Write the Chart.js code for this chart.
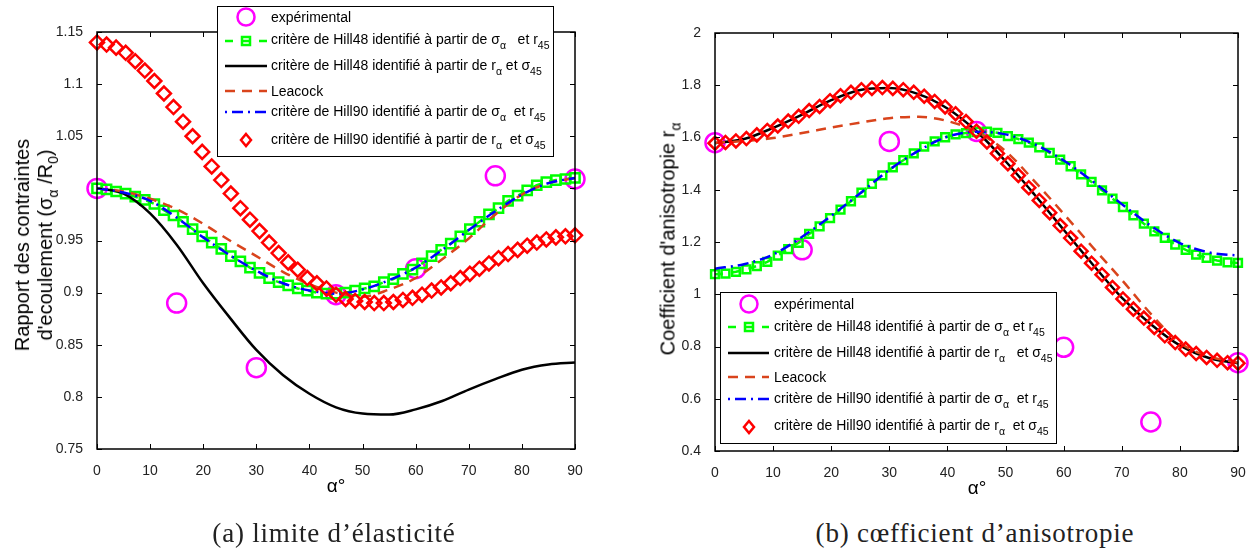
<!DOCTYPE html>
<html>
<head>
<meta charset="utf-8">
<script src="https://cdn.jsdelivr.net/npm/chart.js@4.4.1/dist/chart.umd.min.js"></script>
<style>
  body { margin: 0; background: #fff; }
  #page { position: relative; width: 1257px; height: 554px; overflow: hidden; font-family: "Liberation Sans", Arial, sans-serif; color: #000; }
  canvas { position: absolute; top: 0; }
  .lgbox { position: absolute; background: #fff; border: 1.5px solid #000; box-sizing: border-box; }
  .lgtxt { position: absolute; font-size: 14px; line-height: 16px; white-space: pre; }
  sub { font-size: 10.5px; vertical-align: baseline; position: relative; top: 5px; line-height: 0; }
  .ytitle { position: absolute; font-size: 20px; line-height: 23px; white-space: pre; text-align: center; transform: translate(-50%, -50%) rotate(-90deg); }
  .ytitle sub { font-size: 14px; top: 6px; }
  .xtitle { position: absolute; font-size: 19px; white-space: pre; transform: translate(-50%, -50%); }
  .caption { position: absolute; font-family: "Liberation Serif", serif; font-size: 27px; letter-spacing: 0.8px; white-space: pre; transform: translate(-50%, -50%); color: #222; }
  #sym { position: absolute; left: 0; top: 0; }
</style>
</head>
<body>
<div id="page">
  <canvas id="left" width="600" height="484" style="left:0px"></canvas>
  <canvas id="right" width="637" height="484" style="left:620px"></canvas>

  <div class="ytitle" style="left:34px; top:245px">Rapport des contraintes
d'ecoulement (σ<sub>α</sub> /R<sub>0</sub>)</div>
  <div class="ytitle" style="left:668px; top:239px">Coefficient d'anisotropie r<sub>α</sub></div>
  <div class="xtitle" style="left:336px; top:486px">α°</div>
  <div class="xtitle" style="left:977px; top:488px">α°</div>
  <div class="caption" style="left:334px; top:533px">(a) limite d’élasticité</div>
  <div class="caption" style="left:975px; top:533px">(b) cœfficient d’anisotropie</div>
</div>

<script>
// angles (degrees)
const alphaExp = [0, 15, 30, 45, 60, 75, 90];
const alphaFine = [0, 1.8, 3.6, 5.4, 7.2, 9, 10.8, 12.6, 14.4, 16.2, 18, 19.8, 21.6, 23.4, 25.2, 27, 28.8, 30.6, 32.4, 34.2,
  36, 37.8, 39.6, 41.4, 43.2, 45, 46.8, 48.6, 50.4, 52.2, 54, 55.8, 57.6, 59.4, 61.2, 63, 64.8, 66.6, 68.4, 70.2,
  72, 73.8, 75.6, 77.4, 79.2, 81, 82.8, 84.6, 86.4, 88.2, 90];
const alphaCoarse = [0, 5, 10, 15, 20, 25, 30, 35, 40, 45, 50, 55, 60, 65, 70, 75, 80, 85, 90];

// (a) limite d'elasticite : sigma_alpha / R0
const sigExp = [1.000, 0.890, 0.828, 0.898, 0.923, 1.012, 1.009];
const sigHill48Sig = [1.000, 0.999, 0.997, 0.995, 0.992, 0.989, 0.985, 0.979, 0.974, 0.968, 0.961, 0.954, 0.948, 0.942, 0.935, 0.930, 0.924, 0.919, 0.914, 0.910,
  0.907, 0.904, 0.902, 0.900, 0.899, 0.899, 0.900, 0.902, 0.904, 0.906, 0.910, 0.913, 0.918, 0.922, 0.928, 0.935, 0.941, 0.947, 0.954, 0.961,
  0.968, 0.975, 0.981, 0.988, 0.993, 0.998, 1.003, 1.006, 1.008, 1.009, 1.010];
const sigHill48R = [1.000, 0.995, 0.976, 0.946, 0.909, 0.876, 0.845, 0.821, 0.803, 0.790, 0.784, 0.783, 0.788, 0.796, 0.807, 0.817, 0.826, 0.831, 0.833];
const sigLeacock = [1.000, 0.997, 0.990, 0.980, 0.966, 0.950, 0.935, 0.920, 0.908, 0.900, 0.896, 0.903, 0.914, 0.932, 0.952, 0.975, 0.994, 1.005, 1.010];
const sigHill90Sig = [1.000, 0.996, 0.988, 0.972, 0.953, 0.936, 0.921, 0.909, 0.902, 0.899, 0.903, 0.912, 0.924, 0.941, 0.960, 0.978, 0.994, 1.005, 1.010];
const sigHill90R = [1.140, 1.138, 1.135, 1.130, 1.122, 1.113, 1.103, 1.091, 1.078, 1.064, 1.050, 1.035, 1.021, 1.008, 0.995, 0.981, 0.970, 0.959, 0.948, 0.938,
  0.929, 0.922, 0.914, 0.909, 0.904, 0.898, 0.894, 0.892, 0.891, 0.890, 0.890, 0.891, 0.893, 0.895, 0.898, 0.902, 0.905, 0.909, 0.914, 0.918,
  0.923, 0.928, 0.933, 0.937, 0.941, 0.945, 0.948, 0.951, 0.953, 0.954, 0.955];

// (b) coefficient d'anisotropie r_alpha
const rExp = [1.580, 1.170, 1.585, 1.623, 0.797, 0.511, 0.738];
const rHill48Sig = [1.077, 1.079, 1.086, 1.095, 1.108, 1.124, 1.148, 1.173, 1.197, 1.231, 1.260, 1.291, 1.324, 1.356, 1.389, 1.423, 1.455, 1.486, 1.513, 1.539,
  1.565, 1.585, 1.601, 1.612, 1.617, 1.621, 1.622, 1.618, 1.605, 1.594, 1.580, 1.562, 1.541, 1.515, 1.490, 1.459, 1.430, 1.398, 1.366, 1.334,
  1.302, 1.270, 1.241, 1.216, 1.190, 1.170, 1.152, 1.139, 1.129, 1.122, 1.120];
const rHill48R = [1.578, 1.594, 1.637, 1.688, 1.743, 1.782, 1.789, 1.766, 1.711, 1.624, 1.509, 1.381, 1.247, 1.114, 0.987, 0.885, 0.804, 0.756, 0.736];
const rLeacock = [1.580, 1.586, 1.598, 1.617, 1.638, 1.657, 1.674, 1.679, 1.663, 1.622, 1.548, 1.432, 1.308, 1.180, 1.055, 0.925, 0.814, 0.762, 0.738];
const rHill90Sig = [1.098, 1.115, 1.152, 1.220, 1.300, 1.387, 1.476, 1.549, 1.603, 1.622, 1.612, 1.574, 1.512, 1.432, 1.345, 1.262, 1.196, 1.160, 1.148];
const rHill90R = [1.578, 1.581, 1.587, 1.596, 1.610, 1.627, 1.644, 1.663, 1.681, 1.703, 1.719, 1.741, 1.760, 1.773, 1.783, 1.788, 1.791, 1.788, 1.783, 1.773,
  1.758, 1.738, 1.717, 1.691, 1.661, 1.624, 1.583, 1.539, 1.500, 1.455, 1.408, 1.359, 1.312, 1.263, 1.215, 1.165, 1.119, 1.075, 1.026, 0.982,
  0.943, 0.909, 0.873, 0.841, 0.815, 0.790, 0.773, 0.758, 0.747, 0.738, 0.736];

const FONT = '"Liberation Sans", Arial, sans-serif';
const GREEN = '#00ff00', MAGENTA = '#ff00ff', LEACOCK = '#d9441c', BLUE = '#0000ff', RED = '#ff0000';
const NONE = 'rgba(0,0,0,0)';

function pts(xs, ys) {
  return xs.map((x, i) => ({ x: x, y: ys[i] }));
}

// matlab style box with inward ticks on the 4 sides
const boxTicks = {
  id: 'boxTicks',
  afterDraw(chart) {
    const ctx = chart.ctx, a = chart.chartArea, sx = chart.scales.x, sy = chart.scales.y;
    const len = 5;
    ctx.save();
    ctx.strokeStyle = '#000';
    ctx.lineWidth = 1;
    ctx.beginPath();
    sx.ticks.forEach(t => {
      const px = Math.round(sx.getPixelForValue(t.value)) + 0.5;
      ctx.moveTo(px, a.bottom); ctx.lineTo(px, a.bottom - len);
      ctx.moveTo(px, a.top); ctx.lineTo(px, a.top + len);
    });
    sy.ticks.forEach(t => {
      const py = Math.round(sy.getPixelForValue(t.value)) + 0.5;
      ctx.moveTo(a.left, py); ctx.lineTo(a.left + len, py);
      ctx.moveTo(a.right, py); ctx.lineTo(a.right - len, py);
    });
    ctx.stroke();
    ctx.lineWidth = 1.5;
    ctx.strokeRect(a.left, a.top, a.right - a.left, a.bottom - a.top);
    ctx.restore();
  }
};

function makeDatasets(exp, h48s, h48r, leac, h90s, h90r, sq, dm) {
  return [
    { data: pts(alphaExp, exp), showLine: false, pointStyle: 'circle', pointRadius: 9.5,
      pointBorderWidth: 2.5, pointBorderColor: MAGENTA, pointBackgroundColor: NONE, clip: false, order: 6 },
    { data: pts(alphaFine, h48s), borderColor: GREEN, borderWidth: 2.5, borderDash: [8, 9],
      pointStyle: 'rect', pointRadius: sq, pointBorderWidth: 2.5, pointBorderColor: GREEN, pointBackgroundColor: NONE, clip: false, order: 5 },
    { data: pts(alphaCoarse, h48r), borderColor: '#000', borderWidth: 2.5, pointRadius: 0,
      cubicInterpolationMode: 'monotone', clip: false, order: 4 },
    { data: pts(alphaCoarse, leac), borderColor: LEACOCK, borderWidth: 2.5, borderDash: [10, 7], pointRadius: 0,
      cubicInterpolationMode: 'monotone', clip: false, order: 3 },
    { data: pts(alphaCoarse, h90s), borderColor: BLUE, borderWidth: 2.5, borderDash: [11, 5, 2, 5], pointRadius: 0,
      cubicInterpolationMode: 'monotone', clip: false, order: 2 },
    { data: pts(alphaFine, h90r), showLine: false, pointStyle: 'rectRot', pointRadius: dm,
      pointBorderWidth: 2.5, pointBorderColor: RED, pointBackgroundColor: NONE, clip: false, order: 1 }
  ];
}

function makeChart(id, datasets, yMin, yMax, yStep, digits, padding, hideOne) {
  return new Chart(document.getElementById(id), {
    type: 'line',
    data: { datasets: datasets },
    plugins: [boxTicks],
    options: {
      responsive: false,
      animation: false,
      devicePixelRatio: 1,
      events: [],
      layout: { padding: padding },
      plugins: { legend: { display: false }, tooltip: { enabled: false } },
      scales: {
        x: {
          type: 'linear', min: 0, max: 90,
          grid: { display: false }, border: { display: false },
          ticks: { stepSize: 10, padding: 6, color: '#222', font: { family: FONT, size: 14 } },
          afterFit: s => { s.height = 32; }
        },
        y: {
          type: 'linear', min: yMin, max: yMax,
          grid: { display: false }, border: { display: false },
          ticks: {
            stepSize: yStep, padding: 6, color: '#222', font: { family: FONT, size: 14 },
            callback: v => {
              if (hideOne && Math.abs(v - 1) < 1e-6) return '';
              return String(parseFloat(v.toFixed(digits)));
            }
          },
          afterFit: s => { s.width = 50; }
        }
      }
    }
  });
}

makeChart('left', makeDatasets(sigExp, sigHill48Sig, sigHill48R, sigLeacock, sigHill90Sig, sigHill90R, 6.5, 7),
  0.75, 1.15, 0.05, 2, { left: 47, right: 25, top: 32, bottom: 3 }, true);
makeChart('right', makeDatasets(rExp, rHill48Sig, rHill48R, rLeacock, rHill90Sig, rHill90R, 5.5, 6.5),
  0.4, 2, 0.2, 1, { left: 45, right: 19, top: 33, bottom: 1 }, false);

// legends (drawn in html so the subscripts stay real text)
const legendText = {
  left: [
    'expérimental',
    'critère de Hill48 identifié à partir de σ<sub>α</sub>   et r<sub>45</sub>',
    'critère de Hill48 identifié à partir de r<sub>α</sub> et σ<sub>45</sub>',
    'Leacock',
    'critère de Hill90 identifié à partir de σ<sub>α</sub>  et r<sub>45</sub>',
    'critère de Hill90 identifié à partir de r<sub>α</sub>  et σ<sub>45</sub>'
  ],
  right: [
    'expérimental',
    'critère de Hill48 identifié à partir de σ<sub>α</sub> et r<sub>45</sub>',
    'critère de Hill48 identifié à partir de r<sub>α</sub>   et σ<sub>45</sub>',
    'Leacock',
    'critère de Hill90 identifié à partir de σ<sub>α</sub>  et r<sub>45</sub>',
    'critère de Hill90 identifié à partir de r<sub>α</sub>  et σ<sub>45</sub>'
  ]
};
const legendBoxes = [
  { key: 'left', box: [217, 6, 337, 151], x0: 225, x1: 267, mx: 246, tx: 271,
    sy: [17, 41, 66, 91, 112, 140], ty: [17, 39, 65, 91, 111, 139] },
  { key: 'right', box: [720, 292, 337, 152], x0: 728, x1: 769, mx: 749, tx: 774,
    sy: [304, 327, 353, 377, 399, 427], ty: [304, 326, 352, 377, 398, 425] }
];

const page = document.getElementById('page');
const NS = 'http://www.w3.org/2000/svg';
legendBoxes.forEach(L => {
  const box = document.createElement('div');
  box.className = 'lgbox';
  box.style.left = L.box[0] + 'px'; box.style.top = L.box[1] + 'px';
  box.style.width = L.box[2] + 'px'; box.style.height = L.box[3] + 'px';
  page.appendChild(box);
});
const svg = document.createElementNS(NS, 'svg');
svg.setAttribute('id', 'sym');
svg.setAttribute('width', 1257); svg.setAttribute('height', 554);
page.appendChild(svg);

function el(tag, attrs) {
  const e = document.createElementNS(NS, tag);
  for (const k in attrs) e.setAttribute(k, attrs[k]);
  svg.appendChild(e);
  return e;
}

legendBoxes.forEach(L => {
  const line = (y, color, dash) => el('line', { x1: L.x0, x2: L.x1, y1: y, y2: y, stroke: color, 'stroke-width': 2.5,
    'stroke-dasharray': dash || 'none' });
  const s = L.sy;
  el('circle', { cx: L.mx, cy: s[0], r: 8.5, fill: 'none', stroke: MAGENTA, 'stroke-width': 2.5 });
  line(s[1], GREEN, '8 9');
  el('rect', { x: L.mx - 4, y: s[1] - 4, width: 8, height: 8, fill: 'none', stroke: GREEN, 'stroke-width': 2.5 });
  line(s[2], '#000');
  line(s[3], LEACOCK, '10 7');
  line(s[4], BLUE, '2 5 11 5');
  el('polygon', { points: [[L.mx, s[5] - 6], [L.mx + 5, s[5]], [L.mx, s[5] + 6], [L.mx - 5, s[5]]].join(' '),
    fill: 'none', stroke: RED, 'stroke-width': 2.5 });

  legendText[L.key].forEach((t, i) => {
    const d = document.createElement('div');
    d.className = 'lgtxt';
    d.innerHTML = t;
    d.style.left = L.tx + 'px';
    d.style.top = (L.ty[i] - 8) + 'px';
    page.appendChild(d);
  });
});
</script>
</body>
</html>
